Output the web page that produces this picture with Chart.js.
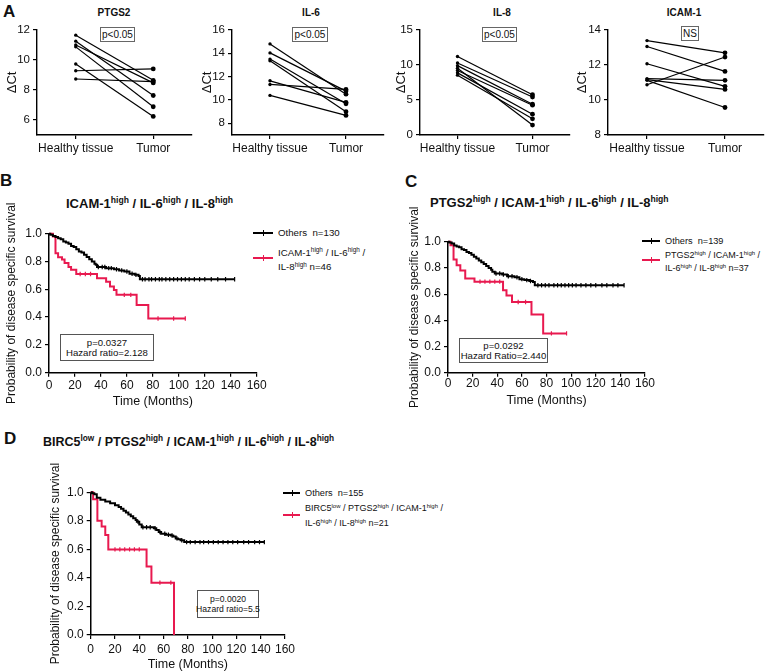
<!DOCTYPE html>
<html lang="en">
<head>
<meta charset="UTF-8">
<title>Expression and survival</title>
<script src="https://cdn.jsdelivr.net/npm/chart.js@4.4.0/dist/chart.umd.min.js"></script>
<style>
body { margin: 0; background: #fff; font-family: "Liberation Sans", Arial, sans-serif; color: #111; }
#page { position: relative; width: 769px; height: 672px; overflow: hidden; background: #fff; }
canvas { position: absolute; }
.txt { position: absolute; white-space: nowrap; line-height: 1.2; }
.letter { font-weight: bold; font-size: 17px; }
.ttl { font-weight: bold; font-size: 13px; }
.sub { font-weight: bold; font-size: 10px; transform: translateX(-50%); }
sup { font-size: 0.66em; vertical-align: baseline; position: relative; top: -0.55em; }
.pbox { position: absolute; box-sizing: border-box; border: 1px solid #666; font-size: 10px; text-align: center; }
.note { position: absolute; box-sizing: border-box; border: 1px solid #555; font-size: 9.6px; line-height: 10px; white-space: nowrap;
        display: flex; flex-direction: column; justify-content: center; align-items: center; }
.leg { position: absolute; white-space: nowrap; font-size: 9.7px; }
.sym { position: absolute; height: 2px; }
.sym i { position: absolute; left: 50%; top: -2px; width: 1.2px; height: 6px; background: inherit; }
</style>
</head>
<body>
<div id="page">
	<div class="txt letter" style="left:3px; top:2px;">A</div>
	<div class="txt sub" style="left:114px; top:7px;">PTGS2</div>
	<div class="txt sub" style="left:311px; top:7px;">IL-6</div>
	<div class="txt sub" style="left:502px; top:7px;">IL-8</div>
	<div class="txt sub" style="left:684px; top:7px;">ICAM-1</div>
	<div class="pbox" style="left:100px; top:27px; width:35px; height:15px; line-height:13px;">p&lt;0.05</div>
	<div class="pbox" style="left:292px; top:27px; width:36px; height:15px; line-height:13px;">p&lt;0.05</div>
	<div class="pbox" style="left:482px; top:27px; width:35px; height:15px; line-height:13px;">p&lt;0.05</div>
	<div class="pbox" style="left:681px; top:26px; width:18px; height:15px; line-height:13px;">NS</div>

	<div class="txt letter" style="left:0px; top:171px;">B</div>
	<div class="txt ttl" style="left:66px; top:196px;">ICAM-1<sup>high</sup> / IL-6<sup>high</sup> / IL-8<sup>high</sup></div>
	<div class="sym" style="left:253px; top:232px; width:20px; background:#000;"><i></i></div>
	<div class="leg" style="left:278px; top:227px; line-height:12px;">Others&nbsp;&nbsp;n=130</div>
	<div class="sym" style="left:253px; top:257px; width:20px; background:#e8194f;"><i></i></div>
	<div class="leg" style="left:278px; top:246px; line-height:13.3px;">ICAM-1<sup>high</sup> / IL-6<sup>high</sup> /<br>IL-8<sup>high</sup> n=46</div>
	<div class="note" style="left:60px; top:334px; width:94px; height:27px;"><span>p=0.0327</span><span>Hazard ratio=2.128</span></div>

	<div class="txt letter" style="left:405px; top:172px;">C</div>
	<div class="txt ttl" style="left:430px; top:195px;">PTGS2<sup>high</sup> / ICAM-1<sup>high</sup> / IL-6<sup>high</sup> / IL-8<sup>high</sup></div>
	<div class="sym" style="left:642px; top:240px; width:18px; background:#000;"><i></i></div>
	<div class="leg" style="left:665px; top:235px; line-height:12px; font-size:9.2px;">Others&nbsp;&nbsp;n=139</div>
	<div class="sym" style="left:642px; top:259px; width:18px; background:#e8194f;"><i></i></div>
	<div class="leg" style="left:665px; top:249px; line-height:12px; font-size:9px;">PTGS2<sup>high</sup> / ICAM-1<sup>high</sup> /<br>IL-6<sup>high</sup> / IL-8<sup>high</sup> n=37</div>
	<div class="note" style="left:459px; top:338px; width:89px; height:25px;"><span>p=0.0292</span><span>Hazard Ratio=2.440</span></div>

	<div class="txt letter" style="left:4px; top:429px;">D</div>
	<div class="txt ttl" style="left:43px; top:435px; font-size:12.5px;">BIRC5<sup>low</sup> / PTGS2<sup>high</sup> / ICAM-1<sup>high</sup> / IL-6<sup>high</sup> / IL-8<sup>high</sup></div>
	<div class="sym" style="left:283px; top:492px; width:17px; background:#000;"><i></i></div>
	<div class="leg" style="left:305px; top:487px; line-height:12px; font-size:9.2px;">Others&nbsp;&nbsp;n=155</div>
	<div class="sym" style="left:283px; top:514px; width:17px; background:#e8194f;"><i></i></div>
	<div class="leg" style="left:305px; top:501px; line-height:14px; font-size:9px;">BIRC5<sup>low</sup> / PTGS2<sup>high</sup> / ICAM-1<sup>high</sup> /<br>IL-6<sup>high</sup> / IL-8<sup>high</sup> n=21</div>
	<div class="note" style="left:197px; top:590px; width:62px; height:28px; font-size:8.6px;"><span>p=0.0020</span><span>Hazard ratio=5.5</span></div>
</div>

<script type="text/javascript">

// ---- panel A : paired dCt, healthy tissue vs tumor ----
const groups = ['Healthy tissue', 'Tumor'];

const ptgs2Healthy = [11.65, 11.25, 11.0, 10.87, 9.73, 9.28, 8.73];
const ptgs2Tumor   = [8.64, 7.63, 8.47, 6.88, 6.24, 9.4, 8.55];
const ptgs2Ticks   = [6, 8, 10, 12];

const il6Healthy = [14.8, 14.03, 13.5, 13.36, 11.64, 11.33, 10.39];
const il6Tumor   = [10.5, 10.76, 9.67, 9.0, 9.8, 10.9, 8.68];
const il6Ticks   = [8, 10, 12, 14, 16];

const il8Healthy = [11.2, 10.28, 9.9, 9.53, 9.2, 8.87, 8.54];
const il8Tumor   = [5.75, 5.42, 4.39, 1.42, 4.25, 2.97, 2.31];
const il8Ticks   = [0, 5, 10, 15];

const icamHealthy = [13.39, 13.05, 12.07, 11.22, 11.16, 11.12, 10.87];
const icamTumor   = [12.69, 11.63, 10.78, 11.12, 10.6, 9.57, 12.45];
const icamTicks   = [8, 10, 12, 14];

// ---- survival curves (months, survival fraction after each step) ----
const monthTicks = [0, 20, 40, 60, 80, 100, 120, 140, 160];
const survTicks  = [0, 0.2, 0.4, 0.6, 0.8, 1.0];

const bOthersT = [0, 1, 3, 5, 7, 9, 11, 13, 15, 17, 19, 21, 23, 25, 27, 29, 31, 33, 35, 36, 37, 44, 50, 54, 58, 62, 66, 69, 70, 143];
const bOthersS = [1, 0.992, 0.984, 0.976, 0.968, 0.96, 0.944, 0.936, 0.928, 0.912, 0.904, 0.888, 0.872, 0.864, 0.848, 0.832, 0.816, 0.8, 0.784, 0.776, 0.76, 0.752, 0.744, 0.736, 0.728, 0.712, 0.704, 0.696, 0.672, 0.672];
const bOthersC = [38, 41, 43, 46, 48, 52, 56, 60, 64, 67, 72, 74, 77, 79, 82, 85, 87, 90, 93, 96, 99, 102, 105, 108, 112, 116, 120, 125, 130, 136, 143];
const bHighT = [0, 3, 5, 7, 10, 12, 15, 17, 21, 37, 44, 47, 50, 52, 67.5, 76.5, 105];
const bHighS = [1, 0.98, 0.86, 0.83, 0.815, 0.79, 0.76, 0.74, 0.71, 0.68, 0.655, 0.62, 0.595, 0.56, 0.487, 0.39, 0.39];
const bHighC = [24, 28, 32, 58, 63, 84, 96, 105];

const cOthersT = [0, 1, 3, 5, 7, 9, 11, 13, 15, 17, 19, 21, 23, 25, 27, 29, 31, 33, 35, 36, 38, 44, 48, 54, 58, 62, 66, 69, 70.5, 143];
const cOthersS = [1, 0.993, 0.986, 0.971, 0.964, 0.957, 0.943, 0.936, 0.921, 0.914, 0.9, 0.886, 0.871, 0.857, 0.843, 0.829, 0.814, 0.8, 0.786, 0.771, 0.757, 0.75, 0.736, 0.729, 0.714, 0.707, 0.7, 0.693, 0.668, 0.668];
const cOthersC = [39, 42, 45, 49, 52, 56, 60, 64, 67, 73, 76, 79, 82, 86, 89, 92, 95, 98, 101, 104, 108, 112, 116, 120, 125, 129, 134, 138, 143];
const cHighT = [0, 2, 4.5, 7, 10, 14, 21.5, 44.7, 47.5, 52, 67.8, 77.3, 96.3];
const cHighS = [1, 0.973, 0.865, 0.82, 0.78, 0.72, 0.695, 0.63, 0.59, 0.54, 0.445, 0.30, 0.30];
const cHighC = [26, 30, 34, 38, 42, 57, 63, 84, 96.3];

const dOthersT = [0, 1, 3, 5, 8, 12, 16, 20, 23, 25, 27, 29, 31, 33, 35, 37, 38, 40, 42, 52, 54, 56, 58, 62, 66, 68, 70, 72, 74, 77, 143];
const dOthersS = [1, 0.994, 0.987, 0.961, 0.948, 0.935, 0.923, 0.91, 0.897, 0.884, 0.871, 0.858, 0.845, 0.832, 0.819, 0.806, 0.793, 0.774, 0.755, 0.748, 0.735, 0.722, 0.71, 0.703, 0.697, 0.69, 0.677, 0.671, 0.664, 0.651, 0.651];
const dOthersC = [39, 43, 46, 49, 53, 57, 61, 64, 67, 71, 75, 79, 82, 86, 90, 93, 97, 101, 105, 109, 113, 117, 121, 126, 130, 135, 139, 143];
const dHighT = [0, 2, 5.5, 9, 12, 14.5, 46, 50, 68.6];
const dHighS = [1, 0.952, 0.80, 0.76, 0.70, 0.60, 0.48, 0.367, 0];
const dHighC = [20, 24, 28, 32, 36, 40, 57, 66];

const RED = '#e8194f';

Chart.defaults.font.family = '"Liberation Sans", Arial, sans-serif';
Chart.defaults.color = '#111';
Chart.defaults.animation = false;

function addCanvas(box) {
	var c = document.createElement('canvas');
	c.width = box.w;
	c.height = box.h;
	c.style.left = box.left + 'px';
	c.style.top = box.top + 'px';
	document.getElementById('page').appendChild(c);
	return c;
}

function axisGrid() {
	return { drawOnChartArea: false, drawTicks: true, tickLength: 4, color: '#000', lineWidth: 1.2, offset: false };
}

function pairChart(box, area, healthy, tumor, yMin, yMax, yTicks, titlePad) {
	var sets = healthy.map(function (h, i) {
		return {
			data: [h, tumor[i]],
			borderColor: '#000',
			borderWidth: 1.2,
			pointRadius: [1.7, 2.4],
			pointBackgroundColor: '#000',
			pointBorderWidth: 0,
			clip: false
		};
	});
	new Chart(addCanvas(box), {
		type: 'line',
		data: { labels: groups, datasets: sets },
		options: {
			responsive: false,
			layout: { padding: { left: 0, top: area.t - box.top, right: box.left + box.w - area.r, bottom: 0 } },
			plugins: { legend: { display: false }, tooltip: { enabled: false } },
			scales: {
				x: {
					offset: true,
					grid: axisGrid(),
					border: { color: '#000', width: 1.4 },
					ticks: { font: { size: 12 }, padding: 2, color: '#111', maxRotation: 0, autoSkip: false },
					afterFit: function (s) { s.height = box.top + box.h - area.b; }
				},
				y: {
					min: yMin, max: yMax,
					grid: axisGrid(),
					border: { color: '#000', width: 1.4 },
					afterBuildTicks: function (s) { s.ticks = yTicks.map(function (v) { return { value: v }; }); },
					ticks: { font: { size: 11.5 }, padding: 3, color: '#111' },
					title: { display: true, text: 'ΔCt', font: { size: 13 }, color: '#111', padding: { top: titlePad, bottom: 0 } },
					afterFit: function (s) { s.width = area.l - box.left; }
				}
			}
		}
	});
}

function survAt(T, S, t) {
	var s = S[0];
	for (var i = 0; i < T.length; i++) {
		if (T[i] <= t) s = S[i];
	}
	return s;
}

function curveSets(T, S, C, color) {
	return [{
		data: T.map(function (t, i) { return { x: t, y: S[i] }; }),
		stepped: true,
		borderColor: color,
		borderWidth: 2,
		pointRadius: 0,
		clip: 4
	}, {
		data: C.map(function (t) { return { x: t, y: survAt(T, S, t) }; }),
		showLine: false,
		pointStyle: 'line',
		rotation: 90,
		pointRadius: 2.2,
		pointBorderColor: color,
		pointBorderWidth: 1.2,
		clip: 4
	}];
}

function kmChart(box, area, sets, pads) {
	new Chart(addCanvas(box), {
		type: 'line',
		data: { datasets: sets },
		options: {
			responsive: false,
			layout: { padding: { left: 0, top: area.t - box.top, right: box.left + box.w - area.r, bottom: 0 } },
			plugins: { legend: { display: false }, tooltip: { enabled: false } },
			scales: {
				x: {
					type: 'linear', min: 0, max: 160,
					grid: axisGrid(),
					border: { color: '#000', width: 1.5 },
					afterBuildTicks: function (s) { s.ticks = monthTicks.map(function (v) { return { value: v }; }); },
					ticks: { font: { size: 12 }, padding: pads.xTick, color: '#111', maxRotation: 0, autoSkip: false },
					title: { display: true, text: 'Time (Months)', font: { size: 12.5 }, color: '#111', padding: { top: 0, bottom: pads.xTitle } },
					afterFit: function (s) { s.height = box.top + box.h - area.b; }
				},
				y: {
					min: 0, max: 1,
					grid: axisGrid(),
					border: { color: '#000', width: 1.5 },
					afterBuildTicks: function (s) { s.ticks = survTicks.map(function (v) { return { value: v }; }); },
					ticks: { font: { size: 12 }, padding: 3, color: '#111', callback: function (v) { return v.toFixed(1); } },
					title: { display: true, text: 'Probability of disease specific survival', font: { size: 12 }, color: '#111', padding: { top: pads.yTitle, bottom: 0 } },
					afterFit: function (s) { s.width = area.l - box.left; }
				}
			}
		}
	});
}

pairChart({ left: 0, top: 20, w: 196, h: 142 }, { l: 37, t: 29, r: 194, b: 135 }, ptgs2Healthy, ptgs2Tumor, 5, 12, ptgs2Ticks, 5);
pairChart({ left: 194, top: 20, w: 194, h: 142 }, { l: 232, t: 29, r: 384, b: 135 }, il6Healthy, il6Tumor, 7, 16, il6Ticks, 6);
pairChart({ left: 384, top: 20, w: 190, h: 142 }, { l: 420, t: 29, r: 572, b: 135 }, il8Healthy, il8Tumor, 0, 15, il8Ticks, 10);
pairChart({ left: 572, top: 20, w: 196, h: 142 }, { l: 608, t: 29, r: 764, b: 135 }, icamHealthy, icamTumor, 8, 14, icamTicks, 3);

kmChart({ left: 0, top: 190, w: 275, h: 225 }, { l: 49, t: 233.7, r: 256.7, b: 372.7 },
	curveSets(bOthersT, bOthersS, bOthersC, '#000').concat(curveSets(bHighT, bHighS, bHighC, RED)),
	{ xTick: 2, xTitle: 5.5, yTitle: 4 });
kmChart({ left: 400, top: 198, w: 265, h: 217 }, { l: 448, t: 241.7, r: 645, b: 372.7 },
	curveSets(cOthersT, cOthersS, cOthersC, '#000').concat(curveSets(cHighT, cHighS, cHighC, RED)),
	{ xTick: 0, xTitle: 6.8, yTitle: 7.5 });
kmChart({ left: 40, top: 448, w: 265, h: 224 }, { l: 90.7, t: 492.3, r: 285, b: 635 },
	curveSets(dOthersT, dOthersS, dOthersC, '#000').concat(curveSets(dHighT, dHighS, dHighC, RED)),
	{ xTick: 3.8, xTitle: 0, yTitle: 8.5 });

</script>
</body>
</html>
